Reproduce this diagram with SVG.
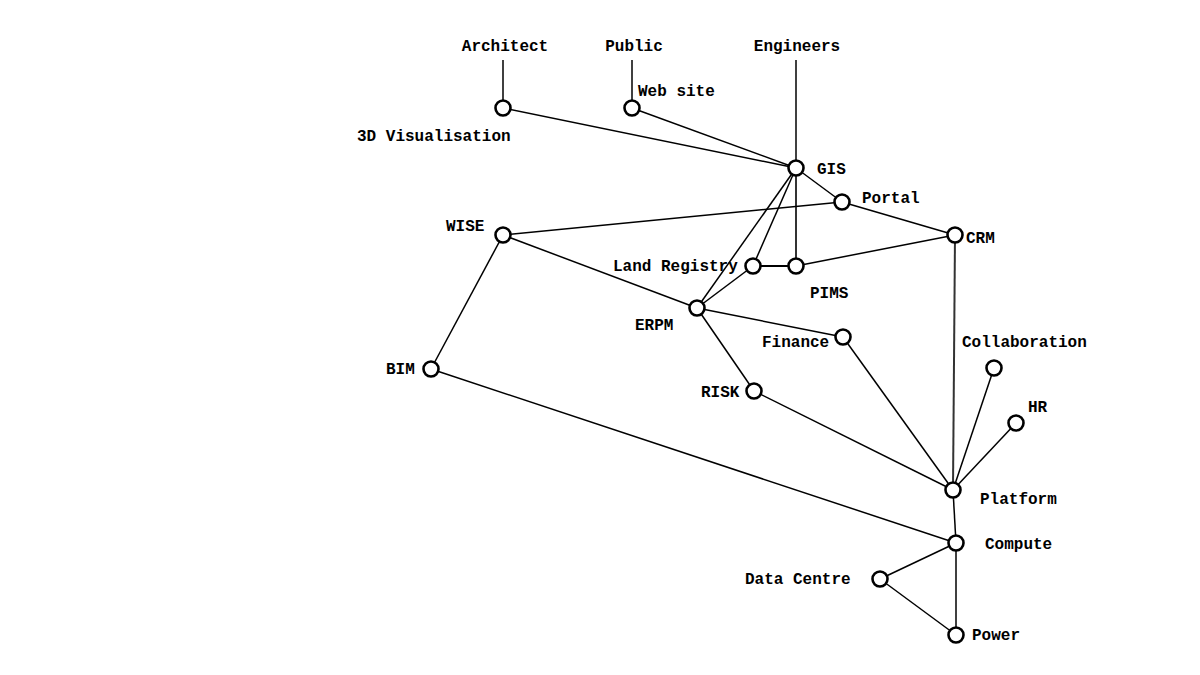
<svg xmlns="http://www.w3.org/2000/svg" width="1200" height="675" viewBox="0 0 1200 675">
<style>
.n{fill:#fff;stroke:#000;stroke-width:2.6}
.e line{stroke:#000;stroke-width:1.5}
text{font-family:"Liberation Mono","Courier New",monospace;font-size:16px;font-weight:bold;fill:#000}
.m{text-anchor:middle}
.r{text-anchor:end}
</style>
<rect width="1200" height="675" fill="#fff"/>
<g class="e" id="connectors">
<line x1="503" y1="60" x2="503" y2="100"/>
<line x1="632" y1="60" x2="632" y2="100"/>
<line x1="796" y1="60" x2="796" y2="160"/>
<line x1="503" y1="108" x2="796" y2="168"/>
<line x1="632" y1="108" x2="796" y2="168"/>
<line x1="796" y1="168" x2="842" y2="202"/>
<line x1="796" y1="168" x2="796" y2="266" style="stroke:#333;stroke-width:2"/>
<line x1="796" y1="168" x2="753" y2="266"/>
<line x1="796" y1="168" x2="697" y2="308"/>
<line x1="842" y1="202" x2="503" y2="235"/>
<line x1="842" y1="202" x2="955" y2="235"/>
<line x1="955" y1="235" x2="796" y2="266"/>
<line x1="753" y1="266" x2="796" y2="266" style="stroke-width:2"/>
<line x1="753" y1="266" x2="697" y2="308"/>
<line x1="503" y1="235" x2="697" y2="308"/>
<line x1="503" y1="235" x2="431" y2="369"/>
<line x1="697" y1="308" x2="843" y2="337"/>
<line x1="697" y1="308" x2="754" y2="391"/>
<line x1="955" y1="235" x2="953" y2="490" style="stroke:#333;stroke-width:2"/>
<line x1="843" y1="337" x2="953" y2="490"/>
<line x1="754" y1="391" x2="953" y2="490"/>
<line x1="994" y1="368" x2="953" y2="490"/>
<line x1="1016" y1="423" x2="953" y2="490"/>
<line x1="431" y1="369" x2="956" y2="543"/>
<line x1="953" y1="490" x2="956" y2="543"/>
<line x1="956" y1="543" x2="880" y2="579"/>
<line x1="956" y1="543" x2="956" y2="635"/>
<line x1="880" y1="579" x2="956" y2="635"/>
</g>
<g id="architect"><text x="505" y="51" class="m">Architect</text></g>
<g id="public"><text x="634" y="51" class="m">Public</text></g>
<g id="engineers"><text x="797" y="51" class="m">Engineers</text></g>
<g id="vis3d"><circle class="n" cx="503" cy="108" r="7.5"/><text x="357" y="141">3D Visualisation</text></g>
<g id="website"><circle class="n" cx="632" cy="108" r="7.5"/><text x="638" y="96">Web site</text></g>
<g id="gis"><circle class="n" cx="796" cy="168" r="7.5"/><text x="817" y="174">GIS</text></g>
<g id="portal"><circle class="n" cx="842" cy="202" r="7.5"/><text x="862" y="203">Portal</text></g>
<g id="crm"><circle class="n" cx="955" cy="235" r="7.5"/><text x="966" y="243">CRM</text></g>
<g id="wise"><circle class="n" cx="503" cy="235" r="7.5"/><text x="446" y="231">WISE</text></g>
<g id="landregistry"><circle class="n" cx="753" cy="266" r="7.5"/><text x="613" y="271">Land Registry</text></g>
<g id="pims"><circle class="n" cx="796" cy="266" r="7.5"/><text x="810" y="298">PIMS</text></g>
<g id="erpm"><circle class="n" cx="697" cy="308" r="7.5"/><text x="635" y="330">ERPM</text></g>
<g id="finance"><circle class="n" cx="843" cy="337" r="7.5"/><text x="762" y="347">Finance</text></g>
<g id="bim"><circle class="n" cx="431" cy="369" r="7.5"/><text x="386" y="374">BIM</text></g>
<g id="collaboration"><circle class="n" cx="994" cy="368" r="7.5"/><text x="962" y="347">Collaboration</text></g>
<g id="risk"><circle class="n" cx="754" cy="391" r="7.5"/><text x="701" y="397">RISK</text></g>
<g id="hr"><circle class="n" cx="1016" cy="423" r="7.5"/><text x="1028" y="412">HR</text></g>
<g id="platform"><circle class="n" cx="953" cy="490" r="7.5"/><text x="980" y="504">Platform</text></g>
<g id="compute"><circle class="n" cx="956" cy="543" r="7.5"/><text x="985" y="549">Compute</text></g>
<g id="datacentre"><circle class="n" cx="880" cy="579" r="7.5"/><text x="745" y="584">Data Centre</text></g>
<g id="power"><circle class="n" cx="956" cy="635" r="7.5"/><text x="972" y="640">Power</text></g>
</svg>
